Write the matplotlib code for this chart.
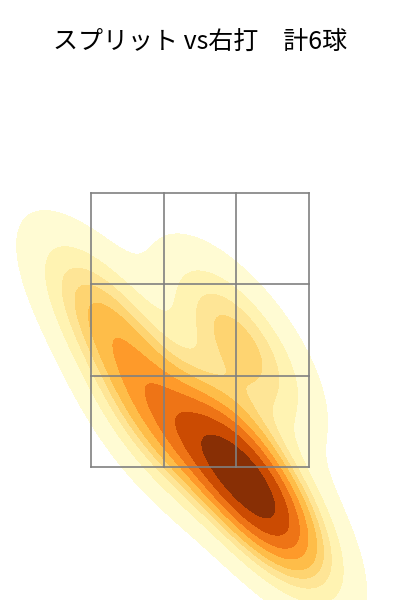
import matplotlib
matplotlib.use("Agg")
import matplotlib.pyplot as plt
import seaborn as sns
import numpy as np

plt.rcParams['font.family'] = ['Noto Sans CJK JP', 'DejaVu Sans']

title = "スプリット vs右打　計6球"
plate_x = [-0.71, 0.29, -0.33, 0.19, 0.38, 0.52]
plate_z = [2.58, 2.41, 1.83, 1.62, 1.37, 1.15]

zone_x = [-0.82, 0.82]
zone_z = [1.5, 3.5]

fig = plt.figure(figsize=(4, 6), dpi=100)
ax = fig.add_axes([0, 0, 1, 1])
sns.kdeplot(x=plate_x, y=plate_z, fill=True, cmap="YlOrBr", levels=10, thresh=0.05, ax=ax)

xs = np.linspace(zone_x[0], zone_x[1], 4)
zs = np.linspace(zone_z[0], zone_z[1], 4)
for xv in xs:
    ax.plot([xv, xv], zone_z, color="gray", lw=1.2, zorder=5)
for zv in zs:
    ax.plot(zone_x, [zv, zv], color="gray", lw=1.2, zorder=5)

ax.set_xlim(-1.5, 1.5)
ax.set_ylim(1.5 - 133 / 137, 3.5 + 193 / 137)
ax.axis("off")
fig.text(0.5, 1 - 42 / 600, title, ha="center", va="center", fontsize=18)
fig.savefig("out.png", dpi=100)
